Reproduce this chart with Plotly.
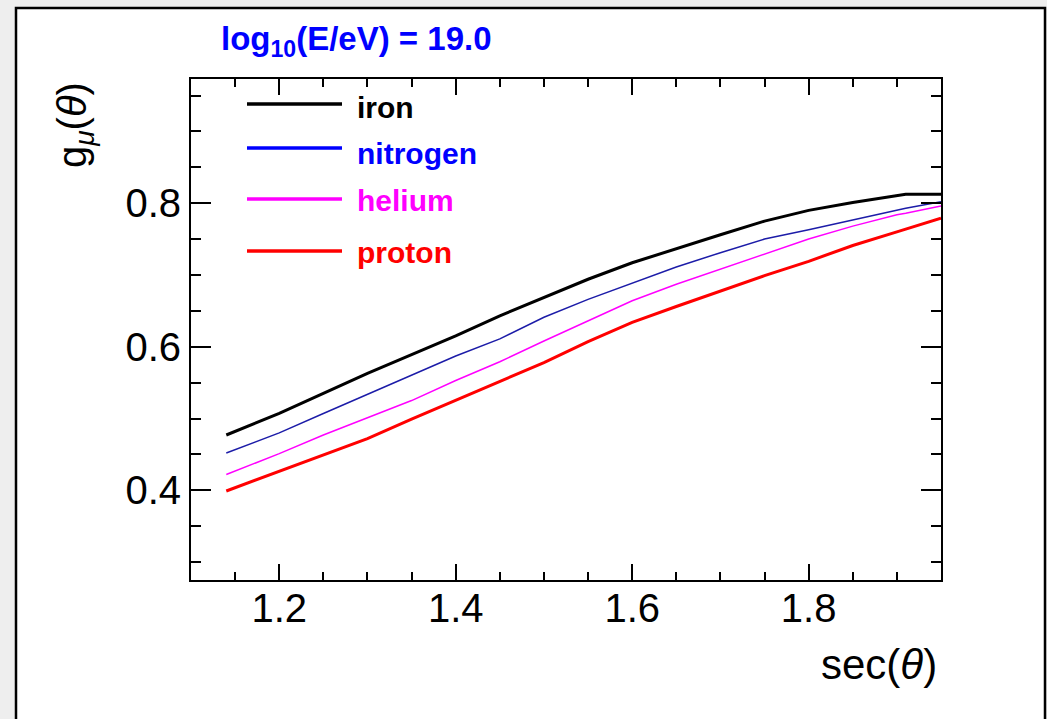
import plotly.graph_objects as go

# sec(theta) sampling points
sec_theta = [1.14, 1.20, 1.25, 1.30, 1.35, 1.40, 1.45, 1.50, 1.55, 1.60,
             1.65, 1.70, 1.75, 1.80, 1.85, 1.90, 1.91, 1.95]

# g_mu(theta) for each primary
g_iron = [0.477, 0.507, 0.535, 0.563, 0.589, 0.615, 0.643, 0.668, 0.694, 0.717,
          0.737, 0.756, 0.775, 0.790, 0.801, 0.811, 0.8125, 0.8125]
g_nitrogen = [0.452, 0.480, 0.507, 0.534, 0.560, 0.587, 0.611, 0.641, 0.666, 0.689,
              0.711, 0.731, 0.750, 0.763, 0.777, 0.791, 0.793, 0.802]
g_helium = [0.422, 0.451, 0.477, 0.501, 0.525, 0.553, 0.579, 0.608, 0.636, 0.664,
            0.687, 0.708, 0.729, 0.750, 0.768, 0.784, 0.786, 0.796]
g_proton = [0.399, 0.426, 0.449, 0.472, 0.499, 0.525, 0.551, 0.578, 0.607, 0.634,
            0.656, 0.678, 0.699, 0.719, 0.741, 0.760, 0.764, 0.779]

series_names = ["iron", "nitrogen", "helium", "proton"]
series_values = [g_iron, g_nitrogen, g_helium, g_proton]
curve_colors = ["#000000", "#1c1ca8", "#ff00ff", "#ff0000"]
curve_widths = [3, 1.5, 1.5, 3]
label_colors = ["#000000", "#0000ff", "#ff00ff", "#ff0000"]

W, H = 1047, 719
L, R, T, B = 191, 941, 79, 580   # frame edges in pixels
FONT = "Liberation Sans, Arial, Helvetica, sans-serif"


def xp(px):
    return (px - L) / (R - L)


def yp(py):
    return (B - py) / (B - T)


fig = go.Figure()
for name, vals, col, w in zip(series_names, series_values, curve_colors, curve_widths):
    fig.add_trace(go.Scatter(x=sec_theta, y=vals, mode="lines", name=name,
                             line=dict(color=col, width=w), showlegend=False))

shapes = [
    # canvas border
    dict(type="rect", xref="paper", yref="paper", x0=xp(16), x1=xp(1045),
         y0=yp(8), y1=yp(740), line=dict(color="black", width=2.5),
         fillcolor="white", layer="below"),
]
annotations = []

# legend
legend_rows = [104, 148, 199, 251]
legend_text_rows = [108, 153, 200, 252]
for name, col, ly, ty in zip(series_names, label_colors, legend_rows, legend_text_rows):
    shapes.append(dict(type="line", xref="paper", yref="paper", x0=xp(247), x1=xp(342),
                       y0=yp(ly), y1=yp(ly), line=dict(color=col, width=3.5)))
    annotations.append(dict(xref="paper", yref="paper", x=xp(355), y=yp(ty),
                            xanchor="left", yanchor="middle", showarrow=False,
                            text=f"<b>{name}</b>",
                            font=dict(family=FONT, size=30, color=col)))

# energy label
annotations.append(dict(xref="paper", yref="paper", x=xp(219), y=yp(41),
                        xanchor="left", yanchor="middle", showarrow=False,
                        text="<b>log<sub>10</sub>(E/eV) = 19.0</b>",
                        font=dict(family=FONT, size=33, color="#0000ff")))
# axis titles
annotations.append(dict(xref="paper", yref="paper", x=xp(939), y=yp(664),
                        xanchor="right", yanchor="middle", showarrow=False,
                        text="sec(<i>θ</i>)",
                        font=dict(family=FONT, size=42, color="black")))
annotations.append(dict(xref="paper", yref="paper", x=xp(75), y=yp(80),
                        xanchor="center", yanchor="top", showarrow=False,
                        textangle=-90,
                        text="g<sub><i>μ</i></sub>(<i>θ</i>)",
                        font=dict(family=FONT, size=40, color="black")))

axis_common = dict(showgrid=False, zeroline=False, showline=True, linecolor="black",
                   linewidth=2, mirror="allticks", ticks="inside", tickcolor="black",
                   tickwidth=2, tickfont=dict(family=FONT, size=40, color="black"))

fig.update_layout(
    width=W, height=H,
    margin=dict(l=L, r=W - R, t=T, b=H - B, pad=0),
    paper_bgcolor="#eeeeee",
    plot_bgcolor="white",
    shapes=shapes,
    annotations=annotations,
    xaxis=dict(range=[1.1, 1.95], tickvals=[1.2, 1.4, 1.6, 1.8],
               ticktext=["1.2", "1.4", "1.6", "1.8"], ticklen=16,
               ticklabelstandoff=-8,
               minor=dict(ticks="inside", dtick=0.05, tick0=1.0, ticklen=8,
                          tickcolor="black", tickwidth=2),
               **axis_common),
    yaxis=dict(range=[0.275, 0.973], tickvals=[0.4, 0.6, 0.8],
               ticktext=["0.4", "0.6", "0.8"], ticklen=20,
               minor=dict(ticks="inside", dtick=0.05, tick0=0.0, ticklen=10,
                          tickcolor="black", tickwidth=2),
               **axis_common),
)

fig.write_html("out.html")
